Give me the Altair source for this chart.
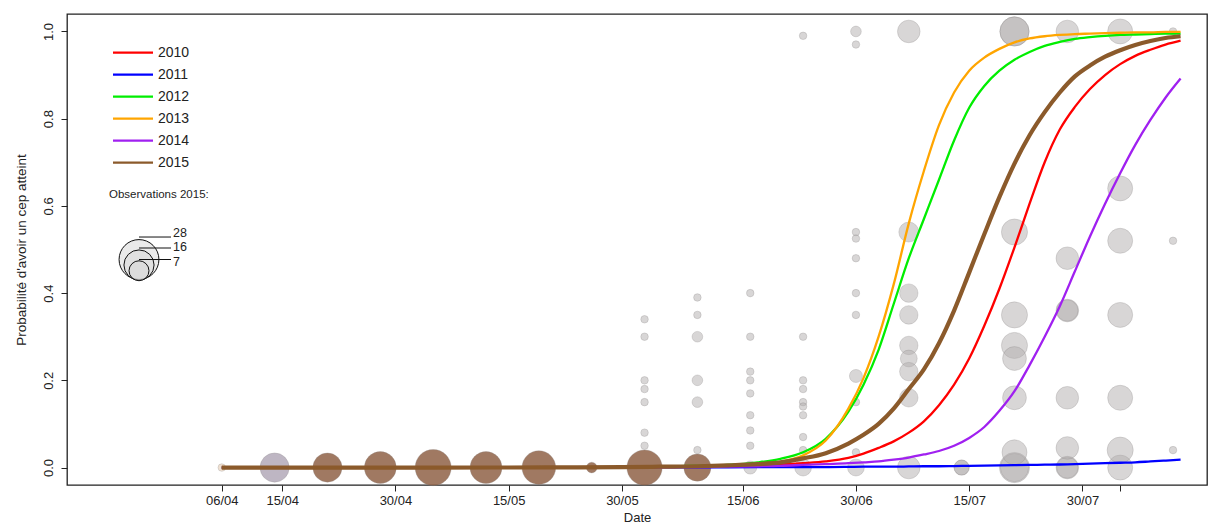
import json
import math
import altair as alt
import pandas as pd

# ------------------------------------------------------------------ data
annees = ["2010", "2011", "2012", "2013", "2014", "2015"]
couleurs = ["#ff0000", "#0000ff", "#00ee00", "#ffa500", "#a020f0", "#8b5a2b"]
epaisseurs = [2.3, 2.3, 2.3, 2.3, 2.3, 4.2]

# day of year (2015 calendar) at which curve values were read
jours = [97, 110, 125, 140, 150, 155, 160, 164, 168, 171,
         174, 177, 180, 182, 184, 186, 188, 190, 192, 194,
         196, 198, 200, 202, 204, 206, 208, 210, 212, 214,
         216, 218, 220, 222, 224]

p_2010 = [0, 0, 0, 0.0002, 0.0005, 0.001, 0.002, 0.003, 0.005, 0.007,
          0.010, 0.014, 0.022, 0.032, 0.045, 0.060, 0.080, 0.106, 0.143, 0.190,
          0.250, 0.325, 0.410, 0.505, 0.605, 0.700, 0.775, 0.827, 0.868, 0.900,
          0.925, 0.944, 0.958, 0.970, 0.979]
p_2011 = [0, 0, 0, 0, 0.0001, 0.0002, 0.0003, 0.0005, 0.001, 0.001,
          0.001, 0.001, 0.0015, 0.002, 0.002, 0.002, 0.0025, 0.003, 0.003, 0.0035,
          0.004, 0.0045, 0.005, 0.0055, 0.006, 0.0065, 0.007, 0.008, 0.009, 0.010,
          0.011, 0.012, 0.014, 0.016, 0.018]
p_2012 = [0, 0, 0, 0.0002, 0.0008, 0.002, 0.004, 0.006, 0.012, 0.020,
          0.035, 0.066, 0.128, 0.190, 0.270, 0.375, 0.480, 0.570, 0.660, 0.750,
          0.825, 0.875, 0.910, 0.935, 0.953, 0.967, 0.976, 0.983, 0.987, 0.990,
          0.992, 0.993, 0.994, 0.995, 0.995]
p_2013 = [0, 0, 0, 0.0001, 0.0003, 0.0008, 0.002, 0.004, 0.007, 0.013,
          0.028, 0.062, 0.135, 0.205, 0.300, 0.420, 0.560, 0.680, 0.785, 0.860,
          0.910, 0.940, 0.960, 0.975, 0.984, 0.989, 0.992, 0.994, 0.995, 0.996,
          0.997, 0.998, 0.998, 0.999, 0.999]
p_2014 = [0, 0, 0, 0.0001, 0.0005, 0.0008, 0.001, 0.002, 0.003, 0.004,
          0.006, 0.008, 0.010, 0.012, 0.014, 0.018, 0.023, 0.030, 0.038, 0.050,
          0.068, 0.093, 0.130, 0.175, 0.235, 0.300, 0.370, 0.450, 0.530, 0.605,
          0.675, 0.740, 0.797, 0.848, 0.892]
p_2015 = [0, 0, 0, 0.0003, 0.001, 0.002, 0.003, 0.005, 0.008, 0.012,
          0.021, 0.033, 0.055, 0.075, 0.100, 0.135, 0.180, 0.225, 0.285, 0.360,
          0.447, 0.535, 0.620, 0.697, 0.762, 0.815, 0.860, 0.897, 0.922, 0.942,
          0.957, 0.969, 0.978, 0.985, 0.989]

# observations (day of year, proportion of vines affected, vines observed, group)
obs_jour = [97, 104, 111, 118, 125, 132, 139, 146,
            153, 153, 153, 153, 153, 153, 153, 153,
            160, 160, 160, 160, 160, 160, 160,
            167, 167, 167, 167, 167, 167, 167, 167, 167,
            174, 174, 174, 174, 174, 174, 174, 174, 174, 174,
            181, 181, 181, 181, 181, 181, 181, 181, 181, 181, 181,
            188, 188, 188, 188, 188, 188, 188, 188, 188,
            195, 195,
            202, 202, 202, 202, 202, 202, 202, 202, 202, 202,
            209, 209, 209, 209, 209, 209, 209, 209,
            216, 216, 216, 216, 216, 216, 216,
            223, 223, 223]
obs_prop = [0, 0, 0, 0, 0, 0, 0, 0,
            0, 0.34, 0.30, 0.20, 0.18, 0.15, 0.08, 0.05,
            0, 0.39, 0.35, 0.30, 0.20, 0.15, 0.04,
            0, 0.40, 0.30, 0.22, 0.20, 0.17, 0.12, 0.085, 0.05,
            0, 0.99, 0.30, 0.20, 0.18, 0.15, 0.14, 0.12, 0.07, 0.04,
            0, 1.0, 0.97, 0.54, 0.525, 0.48, 0.40, 0.35, 0.21, 0.15, 0.035,
            0, 1.0, 0.54, 0.40, 0.35, 0.28, 0.25, 0.22, 0.16,
            0, 0,
            0, 0, 1.0, 1.0, 0.54, 0.35, 0.28, 0.25, 0.16, 0.035,
            0, 0, 1.0, 0.48, 0.36, 0.36, 0.16, 0.045,
            0, 1.0, 0.64, 0.52, 0.35, 0.16, 0.04,
            1.0, 0.52, 0.04]
obs_n = [1, 15, 15, 18, 23, 18, 20, 2,
         22, 1, 1, 1, 1, 1, 1, 1,
         13, 1, 1, 2, 2, 2, 1,
         3, 1, 1, 1, 1, 1, 1, 1, 1,
         5, 1, 1, 1, 1, 1, 1, 1, 1, 1,
         5, 2, 1, 1, 1, 1, 1, 1, 3, 1, 1,
         9, 9, 7, 6, 6, 6, 5, 6, 6,
         4, 4,
         16, 14, 15, 15, 12, 12, 12, 10, 10, 11,
         9, 8, 9, 9, 9, 8, 9, 9,
         11, 11, 11, 11, 11, 11, 12,
         1, 1, 1]
obs_groupe = ["D", "C", "B", "B", "B", "B", "B", "B",
              "B", "A", "A", "A", "A", "A", "A", "A",
              "B", "A", "A", "A", "A", "A", "A",
              "A", "A", "A", "A", "A", "A", "A", "A", "A",
              "A", "A", "A", "A", "A", "A", "A", "A", "A", "A",
              "A", "A", "A", "A", "A", "A", "A", "A", "A", "A", "A",
              "A", "A", "A", "A", "A", "A", "A", "A", "A",
              "A", "A",
              "A", "A", "A", "A", "A", "A", "A", "A", "A", "A",
              "A", "A", "A", "A", "A", "A", "A", "A",
              "A", "A", "A", "A", "A", "A", "A",
              "A", "A", "A"]
groupes = ["A", "B", "C", "D"]
groupe_couleurs = ["rgba(177,173,173,0.5)", "rgba(143,98,70,0.85)",
                   "rgba(179,169,184,0.85)", "rgba(230,205,180,0.6)"]

tick_jours = [97, 105, 120, 135, 150, 166, 181, 196, 211, 216]
tick_labels = ["06/04", "15/04", "30/04", "15/05", "30/05", "15/06",
               "30/06", "15/07", "30/07", ""]
y_ticks = [0, 0.2, 0.4, 0.6, 0.8, 1.0]
leg_tailles = [28, 16, 7]

# ------------------------------------------------------------------ layout
FONT = "Liberation Sans"
TXT = "#222222"
W, H = 1140, 471
X_DOM = [76.5, 227.5]
Y_DOM = [-0.04, 1.04]
PX_X = W / (X_DOM[1] - X_DOM[0])      # px per day
PX_Y = H / (Y_DOM[1] - Y_DOM[0])      # px per unit of probability
R1 = 4.25                              # radius (px) of a bubble for 1 vine
N_MAX = 28
SIZE_MAX = math.pi * R1 * R1 * N_MAX

xs = alt.Scale(domain=X_DOM, nice=False, zero=False)
ys = alt.Scale(domain=Y_DOM, nice=False, zero=False)
size_scale = alt.Scale(type="linear", domain=[0, N_MAX], range=[0, SIZE_MAX])

label_expr = f"{json.dumps(tick_labels)}[indexof({json.dumps(tick_jours)}, datum.value)]"

X = alt.X("jour:Q", scale=xs, title="Date",
          axis=alt.Axis(values=tick_jours, labelExpr=label_expr, tickSize=6,
                        labelPadding=3, titlePadding=4, labelFontSize=13,
                        titleFontSize=13, domain=False, grid=False,
                        labelOverlap=False, labelFlush=False))
Y = alt.Y("p:Q", scale=ys, title="Probabilité d'avoir un cep atteint",
          axis=alt.Axis(values=y_ticks, format=".1f", labelAngle=-90,
                        labelAlign="center", labelBaseline="bottom",
                        labelPadding=6, tickSize=6, titlePadding=14,
                        labelFontSize=13, titleFontSize=13.5, domain=False,
                        grid=False))
X2 = alt.X2("jour2:Q")

# ------------------------------------------------------------------ tables
obs = pd.DataFrame({"jour": obs_jour, "p": obs_prop, "n": obs_n,
                    "groupe": obs_groupe})

courbes = pd.concat([
    pd.DataFrame({"jour": jours, "p": vals, "annee": a})
    for a, vals in zip(annees, [p_2010, p_2011, p_2012, p_2013, p_2014, p_2015])
], ignore_index=True)

# legend anchors (in data units of the plot)
LEG_X0 = X_DOM[0] + 46 / PX_X
LEG_X1 = X_DOM[0] + 86 / PX_X
LEG_TX = X_DOM[0] + 91 / PX_X
LEG_P0 = Y_DOM[1] - 38.7 / PX_Y
LEG_STEP = 22.0 / PX_Y

leg = pd.DataFrame({"annee": annees})
leg["jour"] = LEG_X0
leg["jour2"] = LEG_X1
leg["p"] = [LEG_P0 - i * LEG_STEP for i in range(len(annees))]
leg_txt = leg.assign(jour=LEG_TX)

OBS_X = X_DOM[0] + 42 / PX_X
OBS_P = Y_DOM[1] - 181 / PX_Y
obs_titre = pd.DataFrame({"jour": [OBS_X], "p": [OBS_P],
                          "t": ["Observations 2015:"]})

B_X = X_DOM[0] + 72 / PX_X
B_X2 = X_DOM[0] + 104 / PX_X
B_TX = X_DOM[0] + 106 / PX_X
B_PBOT = Y_DOM[1] - 268 / PX_Y
B_LAB_ROWS = [219, 233, 248]          # label centres, px below the plot top
rayons = [R1 * math.sqrt(n) for n in leg_tailles]
bleg = pd.DataFrame({"n": leg_tailles,
                     "jour": B_X,
                     "jour2": B_X2,
                     "p": [B_PBOT + r / PX_Y for r in rayons],
                     "ptop": [B_PBOT + 2 * r / PX_Y for r in rayons]})
bleg["lab"] = bleg["n"].astype(str)
bleg_txt = bleg.assign(jour=B_TX, ptop=[Y_DOM[1] - r / PX_Y for r in B_LAB_ROWS])

# ------------------------------------------------------------------ layers
bulles = alt.Chart(obs).mark_circle(
    opacity=1, stroke="rgba(140,136,136,0.35)", strokeWidth=0.8
).encode(
    x=X, y=Y,
    size=alt.Size("n:Q", scale=size_scale, legend=None),
    color=alt.Color("groupe:N", scale=alt.Scale(domain=groupes, range=groupe_couleurs),
                    legend=None),
)

lignes = [
    alt.Chart(courbes).transform_filter(alt.datum.annee == a).mark_line(
        color=c, strokeWidth=w, interpolate="monotone"
    ).encode(x=X, y=Y)
    for a, c, w in zip(annees, couleurs, epaisseurs)
]

leg_lignes = alt.Chart(leg).mark_rule().encode(
    x=X, x2=X2, y=Y,
    color=alt.Color("annee:N", scale=alt.Scale(domain=annees, range=couleurs), legend=None),
    strokeWidth=alt.StrokeWidth("annee:O", scale=alt.Scale(domain=annees, range=epaisseurs),
                                legend=None),
)
leg_textes = alt.Chart(leg_txt).mark_text(
    align="left", baseline="middle", font=FONT, fontSize=14, color=TXT
).encode(x=X, y=Y, text="annee:N")

obs_texte = alt.Chart(obs_titre).mark_text(
    align="left", baseline="middle", font=FONT, fontSize=11.5, color=TXT
).encode(x=X, y=Y, text="t:N")

bleg_cercles = alt.Chart(bleg).mark_circle(
    opacity=1, fill="#d8d8d8", fillOpacity=0.55, stroke="#111111", strokeWidth=1
).encode(x=X, y=Y, size=alt.Size("n:Q", scale=size_scale, legend=None))

bleg_traits = alt.Chart(bleg).mark_rule(color="#111111", strokeWidth=1).encode(
    x=X, x2=X2, y=alt.Y("ptop:Q", scale=ys))
bleg_textes = alt.Chart(bleg_txt).mark_text(
    align="left", baseline="middle", font=FONT, fontSize=12.5, color=TXT
).encode(x=X, y=alt.Y("ptop:Q", scale=ys), text="lab:N")

chart = alt.layer(
    bulles, *lignes, leg_lignes, leg_textes, obs_texte,
    bleg_cercles, bleg_traits, bleg_textes
).resolve_scale(color="independent").properties(
    width=W, height=H,
    autosize=alt.AutoSizeParams(type="none"),
    padding={"left": 59, "top": 6, "right": 1, "bottom": 39},
    background="white",
).configure_view(
    stroke="#222222", strokeWidth=1.3
).configure_axis(
    labelFont=FONT, titleFont=FONT, labelColor=TXT, titleColor=TXT,
    tickColor=TXT, titleFontWeight="normal"
)

chart.save("out.html", embed_options={"renderer": "svg", "actions": False})
